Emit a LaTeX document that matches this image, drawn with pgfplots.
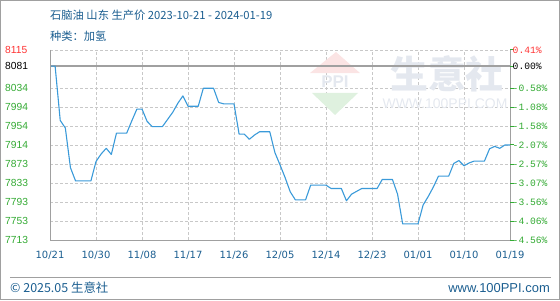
\documentclass[border=0pt]{standalone}
\usepackage{fontspec}
\usepackage{pgfplots}
\pgfplotsset{compat=1.18}
\setmainfont{DejaVu Sans}
\newfontfamily\cjk{Noto Sans CJK SC}
\newfontfamily\lsans{Liberation Sans}
\newfontfamily\mono{Liberation Mono}
\definecolor{titleblue}{HTML}{1B5E90}
\definecolor{linecol}{HTML}{3A9AD9}
\definecolor{gridc}{HTML}{C8C8C8}
\definecolor{framec}{HTML}{A0A0A0}
\definecolor{tgreen}{HTML}{33AA33}
\definecolor{tred}{HTML}{FF3333}
\definecolor{wmtext}{HTML}{E4E8EF}
\definecolor{wmpink}{HTML}{FBE4E4}
\definecolor{wmgreen}{HTML}{DFF1DF}

\pgfplotstableread{
day price
0 8081
1 8081
2 7966
3 7950
4 7866
5 7838
6 7838
7 7838
8 7838
9 7879
10 7895
11 7907
12 7894
13 7939
14 7939
15 7939
16 7965
17 7990
18 7990
19 7964
20 7953
21 7953
22 7953
23 7968
24 7983
25 8002
26 8018
27 7996
28 7996
29 7996
30 8034
31 8034
32 8034
33 8004
34 8001
35 8001
36 8001
37 7937
38 7937
39 7926
40 7935
41 7942
42 7942
43 7942
44 7898
45 7872
46 7845
47 7815
48 7798
49 7798
50 7798
51 7829
52 7829
53 7829
54 7829
55 7822
56 7822
57 7822
58 7796
59 7810
60 7816
61 7822
62 7822
63 7822
64 7822
65 7841
66 7841
67 7841
68 7810
69 7747
70 7747
71 7747
72 7747
73 7787
74 7805
75 7825
76 7848
77 7848
78 7848
79 7875
80 7881
81 7870
82 7876
83 7880
84 7880
85 7880
86 7906
87 7911
88 7907
89 7914
90 7914
}\pricedata

\begin{document}
\begin{tikzpicture}
\begin{axis}[
  name=main,
  scale only axis, width=460bp, height=190bp,
  xmin=0, xmax=90, ymin=7713, ymax=8115,
  axis line style={draw=none},
  xtick={0,9,...,90},
  xticklabels={10/21,10/30,11/08,11/17,11/26,12/05,12/14,12/23,01/01,01/10,01/19},
  ytick={7713,7753,7793,7833,7873,7914,7954,7994,8034,8081,8115},
  yticklabels={\textcolor{tgreen}{7713},\textcolor{tgreen}{7753},\textcolor{tgreen}{7793},\textcolor{tgreen}{7833},\textcolor{tgreen}{7873},\textcolor{tgreen}{7914},\textcolor{tgreen}{7954},\textcolor{tgreen}{7994},\textcolor{tgreen}{8034},\textcolor{black}{8081},\textcolor{tred}{8115}},
  grid=major,
  grid style={gridc, dash pattern=on 3bp off 2bp, line width=0.8bp},
  major tick length=0pt,
  tick style={draw=none},
  xticklabel style={font=\fontsize{10}{10}\selectfont, text=titleblue, yshift=-8bp},
  yticklabel style={font=\lsans\fontsize{10.3}{10}\selectfont, anchor=west, inner sep=0pt, xshift=-45bp},
  clip=false,
]
% watermark (behind the data)
\fill[wmpink] (axis description cs:0.5652,0.8789) -- (axis description cs:0.6739,0.8789) -- (axis description cs:0.6217,0.9895) -- cycle;
\node[text=wmtext, font=\lsans\bfseries\fontsize{17}{17}\selectfont] at (axis description cs:0.6196,0.8316) {PPI};
\fill[wmgreen] (axis description cs:0.5696,0.7737) -- (axis description cs:0.6696,0.7737) -- (axis description cs:0.6196,0.6579) -- cycle;
\node[text=wmtext, font=\cjk\bfseries\fontsize{38}{40}\selectfont] at (axis description cs:0.8630,0.8737) {生意社};
\node[text=wmtext, font=\lsans\fontsize{14}{14}\selectfont] at (axis description cs:0.8587,0.7158) {WWW.100PPI.COM};
\addplot[framec, line width=1.3bp, forget plot] coordinates {(0,8081) (90,8081)};
\addplot[linecol, line width=1.1bp, line join=round] table[x=day, y=price] {\pricedata};
\draw[framec, line width=1bp] (axis description cs:0,1) -- (axis description cs:0,0) -- (axis description cs:1,0) -- (axis description cs:1,1);
\coordinate (O) at (axis description cs:-0.108696,-0.315789);
\end{axis}

\begin{axis}[
  scale only axis, width=460bp, height=190bp,
  at={(main.south west)}, anchor=south west,
  xmin=0, xmax=90, ymin=7713, ymax=8115,
  axis x line=none,
  axis y line*=right,
  y axis line style={draw=none},
  ytick={7713,7753,7793,7833,7873,7914,7954,7994,8034,8081,8115},
  yticklabels={\textcolor{tgreen}{-4.56\%},\textcolor{tgreen}{-4.06\%},\textcolor{tgreen}{-3.56\%},\textcolor{tgreen}{-3.07\%},\textcolor{tgreen}{-2.57\%},\textcolor{tgreen}{-2.07\%},\textcolor{tgreen}{-1.58\%},\textcolor{tgreen}{-1.08\%},\textcolor{tgreen}{-0.58\%},\textcolor{black}{0.00\%},\textcolor{tred}{0.41\%}},
  tick align=outside,
  major tick length=4bp,
  ytick style={tgreen, line width=1bp},
  yticklabel style={font=\mono\fontsize{9.7}{10}\selectfont, anchor=west, inner sep=0pt, xshift=-1.5bp},
]
\addplot[draw=none, forget plot] coordinates {(0,8081)};
\end{axis}

\begin{scope}[shift={(O)}, x=1bp, y=1bp]
\draw[framec, line width=1bp] (0.5,0.5) rectangle (559.5,299.5);
\node[anchor=west, inner sep=0pt, text=titleblue, font=\cjk\fontsize{11.3}{12}\selectfont] at (50,285) {石脑油 山东 生产价 2023-10-21 - 2024-01-19};
\node[anchor=west, inner sep=0pt, text=titleblue, font=\cjk\fontsize{11.3}{12}\selectfont] at (50,264) {种类：加氢};
\draw[framec, line width=1bp] (10,23) -- (551,23);
\node[anchor=west, inner sep=0pt, text=titleblue, font=\cjk\fontsize{12.5}{13}\selectfont] at (10,12) {© 2025.05 生意社};
\node[anchor=east, inner sep=0pt, text=titleblue, font=\lsans\fontsize{13}{13}\selectfont] at (550,12) {www.100PPI.com};
\pgfresetboundingbox
\useasboundingbox (0,0) rectangle (560,300);
\end{scope}
\end{tikzpicture}
\end{document}
